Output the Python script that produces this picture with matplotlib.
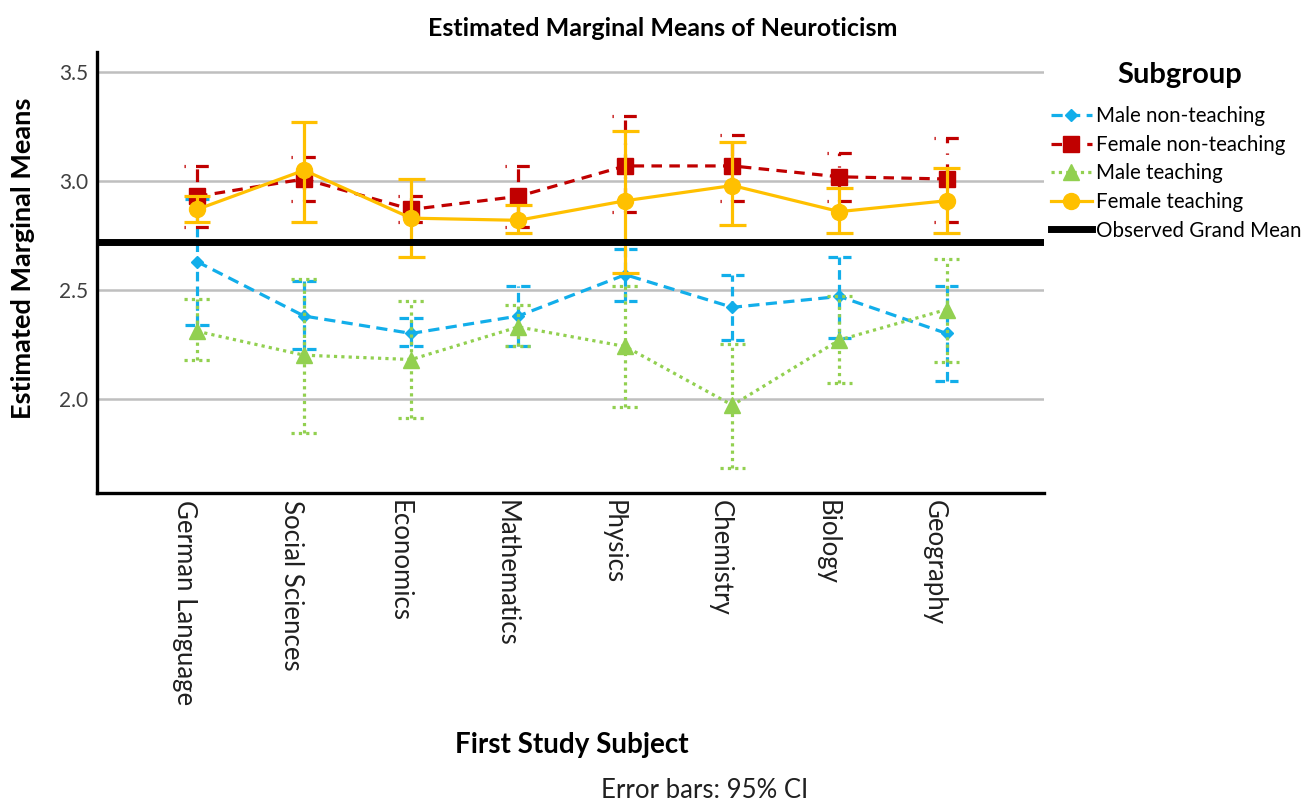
import numpy as np
import matplotlib
matplotlib.use("Agg")
import matplotlib.pyplot as plt
from matplotlib.lines import Line2D

# Datos

subjects = ["German Language", "Social Sciences", "Economics", "Mathematics",
            "Physics", "Chemistry", "Biology", "Geography"]

male_nt_mean = [2.63, 2.38, 2.30, 2.38, 2.57, 2.42, 2.47, 2.30]
male_nt_lo = [2.34, 2.23, 2.24, 2.24, 2.45, 2.27, 2.28, 2.08]
male_nt_hi = [2.92, 2.54, 2.37, 2.52, 2.69, 2.57, 2.65, 2.52]

female_nt_mean = [2.93, 3.01, 2.87, 2.93, 3.07, 3.07, 3.02, 3.01]
female_nt_lo = [2.79, 2.91, 2.81, 2.79, 2.86, 2.91, 2.91, 2.81]
female_nt_hi = [3.07, 3.11, 2.93, 3.07, 3.30, 3.21, 3.13, 3.20]

male_t_mean = [2.31, 2.20, 2.18, 2.33, 2.24, 1.97, 2.27, 2.41]
male_t_lo = [2.18, 1.84, 1.91, 2.24, 1.96, 1.68, 2.07, 2.17]
male_t_hi = [2.46, 2.55, 2.45, 2.43, 2.52, 2.25, 2.47, 2.64]

female_t_mean = [2.87, 3.05, 2.83, 2.82, 2.91, 2.98, 2.86, 2.91]
female_t_lo = [2.81, 2.81, 2.65, 2.76, 2.58, 2.80, 2.76, 2.76]
female_t_hi = [2.93, 3.27, 3.01, 2.89, 3.23, 3.18, 2.97, 3.06]

grand_mean = 2.72

yticks = [2.0, 2.5, 3.0, 3.5]

# Estilos

plt.rcParams['font.family'] = ['Lato', 'DejaVu Sans']

series = [
    # etiqueta, medias, lo, hi, color, estilo linea, estilo barras, marcador, tam, cap
    ("Male non-teaching", male_nt_mean, male_nt_lo, male_nt_hi, "#12AEEA",
     (0, (3.5, 2.0)), (0, (3.0, 1.6)), "D", 6.5, 0.11),
    ("Female non-teaching", female_nt_mean, female_nt_lo, female_nt_hi, "#C00000",
     (0, (3.3, 2.3)), (0, (0.4, 3.2, 4, 3)), "s", 11.5, 0.12),
    ("Male teaching", male_t_mean, male_t_lo, male_t_hi, "#92D050",
     (0, (1, 1.3)), (0, (1, 1.3)), "^", 11.5, 0.12),
    ("Female teaching", female_t_mean, female_t_lo, female_t_hi, "#FFC000",
     "-", "-", "o", 11.5, 0.125),
]

fig = plt.figure(figsize=(13.12, 8.07), dpi=100)
ax = fig.add_axes([0.0737, 0.3887, 0.7220, 0.5472])

x = np.arange(len(subjects))

for yt in yticks:
    ax.axhline(yt, color="#BFBFBF", lw=1.8, zorder=0)

handles = []
for i, (lab, m, lo, hi, col, ls, els, mk, ms, cw) in enumerate(series):
    z = 2 + i
    ax.vlines(x, lo, hi, colors=col, linestyles=[els], lw=2.3, zorder=z)
    ax.hlines(lo, x - cw, x + cw, colors=col, linestyles=[els], lw=2.3, zorder=z)
    ax.hlines(hi, x - cw, x + cw, colors=col, linestyles=[els], lw=2.3, zorder=z)
    ax.plot(x, m, color=col, linestyle=ls, lw=2.3, marker=mk, markersize=ms,
            markeredgecolor=col, zorder=z + 0.5)
    handles.append(Line2D([], [], color=col, linestyle=ls, lw=2.3, marker=mk,
                          markersize=ms, markeredgecolor=col, label=lab))

ax.axhline(grand_mean, color="black", lw=5, zorder=10)
handles.append(Line2D([], [], color="black", lw=5, label="Observed Grand Mean"))

ax.set_xlim(-0.937, 7.91)
ax.set_ylim(1.565, 3.595)
ax.set_yticks(yticks)
ax.set_yticklabels(["%.1f" % v for v in yticks], fontsize=15, color="#404040")
ax.set_xticks(x)
ax.set_xticklabels(subjects, rotation=270, ha="right", va="top", fontsize=18.5,
                   color="#202020")
ax.tick_params(axis="both", length=0)
ax.tick_params(axis="y", pad=6)
ax.tick_params(axis="x", pad=5)

for s in ["top", "right"]:
    ax.spines[s].set_visible(False)
for s in ["left", "bottom"]:
    ax.spines[s].set_linewidth(2.4)
    ax.spines[s].set_color("black")

fig.text(0.5053, 0.9653, "Estimated Marginal Means of Neuroticism",
         ha="center", va="center", fontsize=18, fontweight="bold")
fig.text(0.0175, 0.680, "Estimated Marginal Means", rotation=90,
         ha="center", va="center", fontsize=19.5, fontweight="bold")
fig.text(0.4356, 0.0768, "First Study Subject", ha="center", va="center",
         fontsize=20, fontweight="bold")
fig.text(0.5373, 0.021, "Error bars: 95% CI", ha="center", va="center",
         fontsize=18.5, color="#202020")

fig.text(0.8994, 0.907, "Subgroup", ha="center", va="center",
         fontsize=21, fontweight="bold")
fig.legend(handles=handles, loc="upper left", bbox_to_anchor=(0.8010, 0.8685),
           frameon=False, fontsize=14.8, handlelength=2.0, handletextpad=0.2,
           labelspacing=0.42, borderpad=0, borderaxespad=0)

fig.savefig("out.png", dpi=100)
